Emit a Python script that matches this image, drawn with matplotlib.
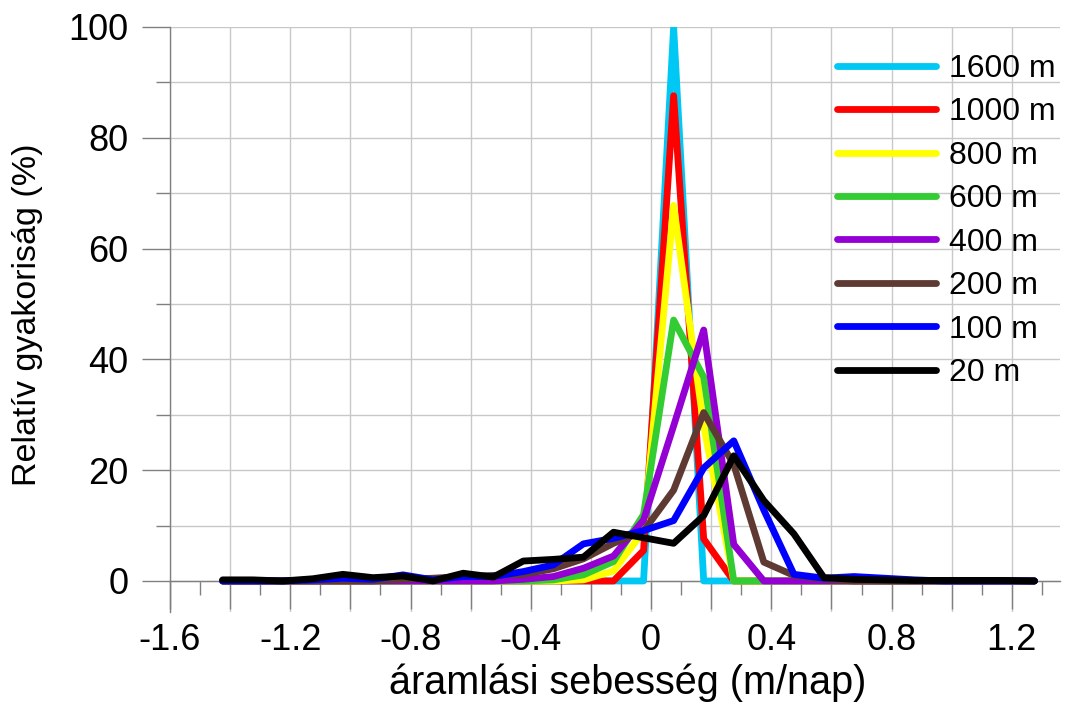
import matplotlib
matplotlib.use("Agg")
import matplotlib.pyplot as plt
from matplotlib.ticker import FuncFormatter, FixedLocator

plt.rcParams['font.family'] = ['Liberation Sans', 'DejaVu Sans']

# bin centres of the flow-velocity histogram (m/nap)
velocity = [-1.425, -1.325, -1.225, -1.125, -1.025, -0.925, -0.825, -0.725,
            -0.625, -0.525, -0.425, -0.325, -0.225, -0.125, -0.025, 0.075,
            0.175, 0.275, 0.375, 0.475, 0.575, 0.675, 0.775, 0.875,
            0.975, 1.075, 1.175, 1.275]

# relative frequency (%) for each grid resolution
freq_1600 = [0, 0, 0, 0, 0, 0, 0, 0, 0, 0, 0, 0, 0, 0, 0, 100.0,
             0, 0, 0, 0, 0, 0, 0, 0, 0, 0, 0, 0]
freq_1000 = [0, 0, 0, 0, 0, 0, 0, 0, 0, 0, 0, 0, 0, 0, 5.5, 87.6,
             7.6, 0, 0, 0, 0, 0, 0, 0, 0, 0, 0, 0]
freq_800 = [0, 0, 0, 0, 0, 0, 0, 0, 0, 0, 0, 0, 0.2, 1.8, 9.0, 67.8,
            28.0, 0, 0, 0, 0, 0, 0, 0, 0, 0, 0, 0]
freq_600 = [0, 0, 0, 0, 0, 0, 0, 0, 0, 0, 0, 0.2, 1.1, 3.5, 12.0, 47.1,
            36.8, 0, 0, 0, 0, 0, 0, 0, 0, 0, 0, 0]
freq_400 = [0, 0, 0, 0, 0, 0, 0, 0, 0, 0, 0.3, 0.8, 2.3, 4.5, 11.0, 28.0,
            45.3, 6.6, 0, 0, 0, 0, 0, 0, 0, 0, 0, 0]
freq_200 = [0, 0, 0, 0, 0, 0, 0.3, 0.5, 0.8, 1.0, 1.2, 2.2, 4.0, 6.8, 9.0, 16.4,
            30.4, 21.0, 3.4, 1.0, 0.3, 0, 0, 0, 0, 0, 0, 0]
freq_100 = [0, 0, 0, 0.2, 0.5, 0.3, 1.1, 0.2, 0.8, 0.8, 1.7, 2.9, 6.7, 7.7, 9.1, 10.9,
            20.4, 25.3, 12.8, 1.2, 0.5, 0.8, 0.5, 0.2, 0, 0, 0, 0]
freq_20 = [0.2, 0.2, 0, 0.4, 1.2, 0.6, 0.9, 0, 1.4, 0.7, 3.6, 3.9, 4.3, 8.8, 7.8, 6.8,
           11.8, 22.6, 14.5, 8.5, 0.6, 0.3, 0.2, 0.1, 0.1, 0.1, 0.1, 0]

labels = ["1600 m", "1000 m", "800 m", "600 m", "400 m", "200 m", "100 m", "20 m"]
series = [freq_1600, freq_1000, freq_800, freq_600, freq_400, freq_200, freq_100, freq_20]
colors = ["#00C8F5", "#FF0000", "#FFFF00", "#33CC33", "#9400D3", "#5E3A33", "#0000FF", "#000000"]

fig = plt.figure(figsize=(10.67, 7.04), dpi=100)
ax = fig.add_axes([170 / 1067, 1 - 612 / 704, 890 / 1067, 585 / 704])

for vals, lab, col in zip(series, labels, colors):
    ax.plot(velocity, vals, color=col, lw=4.9, label=lab,
            solid_joinstyle='round', solid_capstyle='round', zorder=3)

ax.set_xlim(-1.6, 1.36)
ax.set_ylim(-5.6, 100)

# axes styling
grid_col = "#C8C8C8"
tick_col = "#808080"
for side in ("top", "right"):
    ax.spines[side].set_visible(False)
ax.spines["bottom"].set_position(("data", 0))
for side in ("left", "bottom"):
    ax.spines[side].set_color(tick_col)
    ax.spines[side].set_linewidth(1.0)

ax.xaxis.set_major_locator(FixedLocator([round(-1.6 + 0.2 * i, 1) for i in range(15)]))
ax.xaxis.set_minor_locator(FixedLocator([round(-1.5 + 0.2 * i, 1) for i in range(15)]))


def xfmt(v, pos):
    q = v / 0.4
    if abs(q - round(q)) < 1e-6:
        return f"{round(v, 1):g}"
    return ""


ax.xaxis.set_major_formatter(FuncFormatter(xfmt))
ax.yaxis.set_major_locator(FixedLocator([0, 20, 40, 60, 80, 100]))
ax.yaxis.set_minor_locator(FixedLocator([10, 30, 50, 70, 90]))

ax.tick_params(which="major", direction="out", length=20, width=1.0, color=tick_col,
               labelsize=26)
ax.tick_params(which="minor", direction="out", length=10, width=1.0, color=tick_col)
ax.tick_params(axis="x", which="major", pad=10)
ax.tick_params(axis="y", which="major", pad=10)

ax.grid(True, axis="x", which="major", color=grid_col, lw=1.0, zorder=0)
ax.grid(True, axis="y", which="both", color=grid_col, lw=1.0, zorder=0)
ax.set_axisbelow(True)

fig.text(628 / 1067, 1 - 683 / 704, "áramlási sebesség (m/nap)", fontsize=28.5,
         ha="center", va="center")
fig.text(28 / 1067, 1 - 315 / 704, "Relatív gyakoriság (%)", fontsize=24.5,
         ha="center", va="center", rotation=90)

leg = ax.legend(loc="upper left", bbox_to_anchor=(837 / 1067, 1 - 54 / 704),
                bbox_transform=fig.transFigure, frameon=False, fontsize=23,
                handlelength=3.1, handletextpad=0.4, labelspacing=0.42,
                borderpad=0, borderaxespad=0)
for h in leg.get_lines():
    h.set_linewidth(4.9)
    h.set_solid_capstyle('round')

fig.savefig("out.png", dpi=100)
